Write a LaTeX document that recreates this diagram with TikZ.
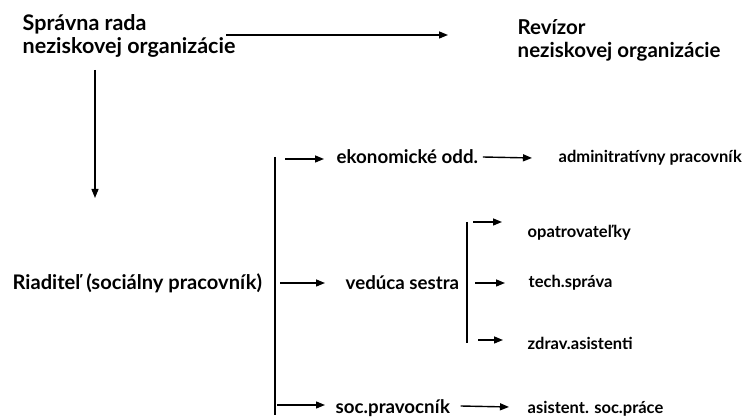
\documentclass[tikz,border=0pt]{standalone}
\usepackage{fontspec}
\setmainfont{Lato}
\usetikzlibrary{arrows.meta}

\begin{document}
\begin{tikzpicture}[x=1pt, y=-1pt, line width=1.4pt,
  >={Triangle[length=9pt,width=7pt]},
  every node/.style = {anchor=west, inner sep=0pt, align=left},
  head/.style = {font=\fontsize{20.5}{23}\bfseries\selectfont},
  unit/.style = {font=\fontsize{18.7}{21}\bfseries\selectfont},
  staff/.style = {font=\fontsize{16.5}{18}\bfseries\selectfont}]
  \useasboundingbox (0,0) rectangle (750,419);
  \node[head, font=\fontsize{21.5}{23}\bfseries\selectfont] (rada) at (22,36) {Správna rada\\neziskovej organizácie};
  \node[head] (revizor) at (517,40) {Revízor\\ neziskovej organizácie};
  \node[head, font=\fontsize{20.1}{23}\bfseries\selectfont] (riaditel) at (12,283) {Riaditeľ\hspace{1pt} (sociálny pracovník)};
  \node[unit] (ekon) at (336,157) {ekonomické odd.};
  \node[unit] (sestra) at (345,283) {vedúca sestra};
  \node[unit] (socp) at (335,408) {soc.pravocník};
  \node[staff] (admin) at (558,158) {adminitratívny pracovník};
  \node[staff] (opat) at (527,233) {opatrovateľky};
  \node[staff] (tech) at (528,283) {tech.správa};
  \node[staff] (zdrav) at (527,343) {zdrav.asistenti};
  \node[staff] (asist) at (527,409) {asistent. soc.práce};
  \coordinate (d1) at (95,70);
  \coordinate (d2) at (95,198);
  \coordinate (b1t) at (275,157);
  \coordinate (b1b) at (275,415);
  \coordinate (b2t) at (467,222);
  \coordinate (b2b) at (467,343);

  \draw[->, shorten >=69pt] ([xshift=-10pt,yshift=1pt]rada.east) -- ([yshift=1pt]rada.east -| revizor.west);
  \draw[->] (d1) -- (d2);
  \draw (b1t) -- (b1b);
  \draw[->] ([xshift=10pt,yshift=-2pt]b1t) -- ([xshift=-12pt,yshift=-2pt]ekon.west);
  \draw[->] (riaditel.east -| b1t) ++(5pt,0) -- ([xshift=-20pt]sestra.west);
  \draw[->] ([xshift=2pt,yshift=3pt]socp.west -| b1t) -- ([xshift=-10pt,yshift=3pt]socp.west);
  \draw[->] ([xshift=4pt]ekon.east) -- ([xshift=-26pt]admin.west);
  \draw[->] ([xshift=10pt,yshift=2pt]socp.east) -- ([xshift=-18pt,yshift=2pt]asist.west);
  \draw (b2t) -- (b2b);
  \draw[->] ([xshift=6pt]b2t) -- ([xshift=-25pt]opat.west |- b2t);
  \draw[->] ([xshift=8pt]sestra.east -| b2t) -- ([xshift=-23pt]tech.west);
  \draw[->] ([xshift=11pt,yshift=3pt]b2b) -- ([xshift=-24pt,yshift=3pt]zdrav.west);
\end{tikzpicture}
\end{document}
